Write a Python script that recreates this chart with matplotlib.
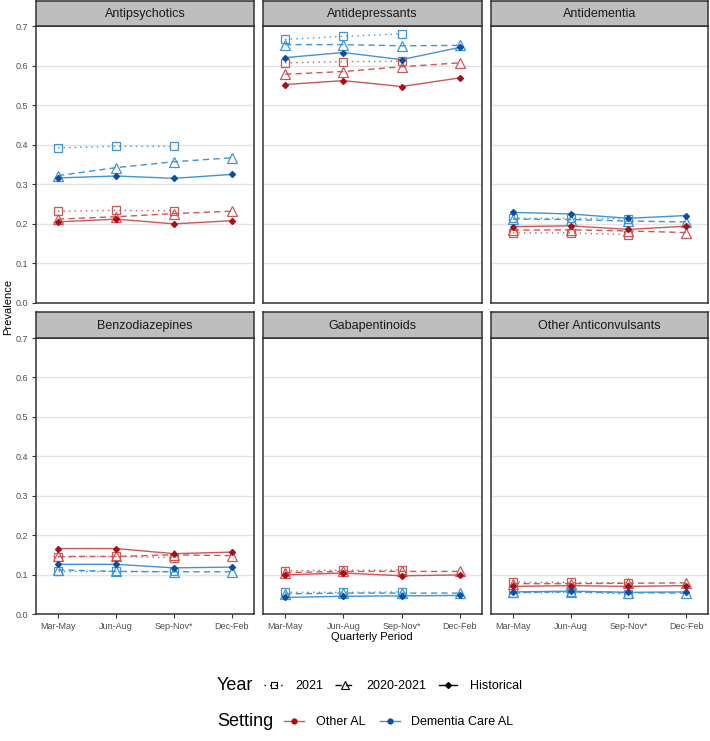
import matplotlib
matplotlib.use("Agg")
import matplotlib.pyplot as plt
from matplotlib.lines import Line2D
import numpy as np

plt.rcParams['font.family'] = ['Liberation Sans', 'DejaVu Sans']

quarters = ["Mar-May", "Jun-Aug", "Sep-Nov*", "Dec-Feb"]
drugs = ["Antipsychotics", "Antidepressants", "Antidementia",
         "Benzodiazepines", "Gabapentinoids", "Other Anticonvulsants"]

# Other AL (red)
other_2021 = [[0.232, 0.234, 0.233],
              [0.607, 0.610, 0.611],
              [0.177, 0.177, 0.173],
              [0.145, 0.146, 0.143],
              [0.110, 0.111, 0.111],
              [0.081, 0.080, 0.079]]
other_2020_21 = [[0.212, 0.218, 0.226, 0.232],
                 [0.578, 0.585, 0.597, 0.607],
                 [0.184, 0.185, 0.182, 0.178],
                 [0.146, 0.146, 0.150, 0.148],
                 [0.105, 0.108, 0.108, 0.108],
                 [0.077, 0.077, 0.078, 0.079]]
other_hist = [[0.205, 0.212, 0.200, 0.208],
              [0.552, 0.562, 0.547, 0.569],
              [0.193, 0.195, 0.186, 0.194],
              [0.166, 0.166, 0.153, 0.157],
              [0.099, 0.104, 0.097, 0.099],
              [0.070, 0.072, 0.070, 0.072]]
# Dementia Care AL (blue)
dem_2021 = [[0.392, 0.396, 0.396],
            [0.666, 0.674, 0.680],
            [0.214, 0.214, 0.213],
            [0.109, 0.109, 0.109],
            [0.055, 0.055, 0.056],
            [0.053, 0.055, 0.051]]
dem_2020_21 = [[0.322, 0.342, 0.357, 0.367],
               [0.653, 0.653, 0.650, 0.651],
               [0.212, 0.211, 0.207, 0.205],
               [0.112, 0.108, 0.107, 0.107],
               [0.051, 0.053, 0.053, 0.053],
               [0.055, 0.056, 0.054, 0.053]]
dem_hist = [[0.316, 0.321, 0.315, 0.325],
            [0.620, 0.633, 0.615, 0.646],
            [0.229, 0.225, 0.214, 0.221],
            [0.126, 0.126, 0.117, 0.119],
            [0.042, 0.045, 0.046, 0.047],
            [0.056, 0.058, 0.055, 0.056]]

W, H = 710, 741
fig = plt.figure(figsize=(W / 100, H / 100), dpi=100)

cols_px = [(36, 254), (263, 482), (491, 708)]
rows_px = [(26, 303, 1), (338, 614, 312)]  # plot top, plot bottom, strip top

red_line = "#CF5656"
red_pt = "#A50F15"
blue_line = "#4193D3"
blue_pt = "#0B4F9E"

dotted = (0, (1, 3))
dashed = (0, (4.5, 3))

x = np.arange(1, 5)

for i, drug in enumerate(drugs):
    r, c = divmod(i, 3)
    x0, x1 = cols_px[c]
    top, bot, stop = rows_px[r]
    ax = fig.add_axes([x0 / W, 1 - bot / H, (x1 - x0) / W, (bot - top) / H])
    ax.set_xlim(0.62, 4.38)
    ax.set_ylim(0, 0.7)
    ax.set_yticks(np.arange(0, 0.71, 0.1))
    ax.set_xticks(x)
    ax.yaxis.grid(True, color="#E3E3E3", linewidth=1.0)
    ax.set_axisbelow(True)
    for s in ax.spines.values():
        s.set_color("#333333")
        s.set_linewidth(1.1)
    ax.tick_params(length=3, color="#333333", labelsize=6.5, labelcolor="#4D4D4D", width=0.8,
                   pad=2.5)
    if c == 0:
        ax.set_yticklabels([f"{v:.1f}" for v in np.arange(0, 0.71, 0.1)])
    else:
        ax.tick_params(axis='y', length=0, labelleft=False)
    if r == 1:
        ax.set_xticklabels(quarters)
    else:
        ax.tick_params(axis='x', length=0, labelbottom=False)

    for lc, pc, d21, d2021, dh in [(red_line, red_pt, other_2021, other_2020_21, other_hist),
                                   (blue_line, blue_pt, dem_2021, dem_2020_21, dem_hist)]:
        ax.plot(x[:len(d21[i])], d21[i], color=lc, linestyle=dotted, linewidth=1.0,
                marker='s', markersize=6, markerfacecolor='none', markeredgecolor=lc,
                markeredgewidth=0.9, zorder=3)
        ax.plot(x, d2021[i], color=lc, linestyle=dashed, linewidth=1.0,
                marker='^', markersize=7, markerfacecolor='none', markeredgecolor=lc,
                markeredgewidth=0.9, zorder=3)
        ax.plot(x, dh[i], color=lc, linestyle='-', linewidth=1.0,
                marker='D', markersize=3.0, markerfacecolor=pc, markeredgecolor=pc, zorder=4)

    # strip
    sax = fig.add_axes([x0 / W, 1 - top / H, (x1 - x0) / W, (top - stop) / H])
    sax.set_xticks([]); sax.set_yticks([])
    sax.set_facecolor("#BEBEBE")
    for s in sax.spines.values():
        s.set_color("#333333")
        s.set_linewidth(1.1)
    sax.text(0.5, 0.48, drug, ha='center', va='center', fontsize=9, color="#1A1A1A",
             transform=sax.transAxes)

fig.text(8 / W, 1 - 307 / H, "Prevalence", rotation=90, ha='center', va='center', fontsize=8)
fig.text(372 / W, 1 - 637 / H, "Quarterly Period", ha='center', va='center', fontsize=8)

# Legends
fig.text(217 / W, 1 - 686 / H, "Year", ha='left', va='center', fontsize=13)
year_handles = [
    Line2D([], [], color='black', linestyle=dotted, linewidth=1.0, marker='s', markersize=5,
           markerfacecolor='none', markeredgewidth=0.8),
    Line2D([], [], color='black', linestyle=dashed, linewidth=1.0, marker='^', markersize=5.5,
           markerfacecolor='none', markeredgewidth=0.8),
    Line2D([], [], color='black', linestyle='-', linewidth=1.0, marker='D', markersize=3.0),
]
fig.legend(year_handles, ["2021", "2020-2021", "Historical"], ncol=3, frameon=False,
           loc='center left', bbox_to_anchor=(258 / W, 1 - 686 / H), fontsize=9,
           handlelength=1.5, handletextpad=1.0, columnspacing=0.95, borderpad=0)

fig.text(217 / W, 1 - 722 / H, "Setting", ha='left', va='center', fontsize=13)
set_handles = [
    Line2D([], [], color=red_line, linestyle='-', linewidth=1.0, marker='o', markersize=3.5,
           markerfacecolor=red_pt, markeredgecolor=red_pt),
    Line2D([], [], color=blue_line, linestyle='-', linewidth=1.0, marker='o', markersize=3.5,
           markerfacecolor=blue_pt, markeredgecolor=blue_pt),
]
fig.legend(set_handles, ["Other AL", "Dementia Care AL"], ncol=2, frameon=False,
           loc='center left', bbox_to_anchor=(278 / W, 1 - 722 / H), fontsize=9,
           handlelength=1.6, handletextpad=0.9, columnspacing=1.2, borderpad=0)

fig.savefig("out.png", dpi=100)
